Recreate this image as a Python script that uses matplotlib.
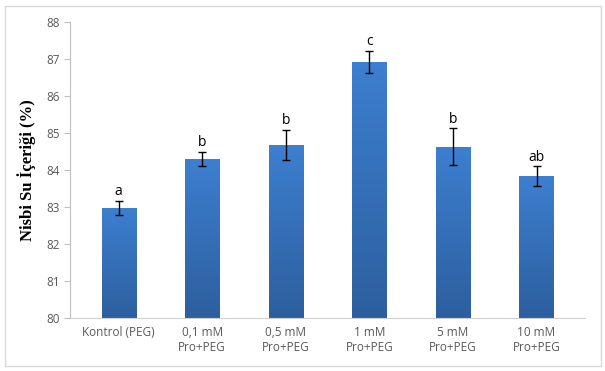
import numpy as np
import matplotlib.pyplot as plt
from matplotlib.patches import Rectangle
from matplotlib.colors import LinearSegmentedColormap

# --- Data ---
categories = ['Kontrol (PEG)', '0,1 mM\nPro+PEG', '0,5 mM\nPro+PEG',
              '1 mM\nPro+PEG', '5 mM\nPro+PEG', '10 mM\nPro+PEG']
values = [82.97, 84.30, 84.68, 86.92, 84.62, 83.83]
errors = [0.20, 0.19, 0.41, 0.30, 0.50, 0.27]
letters = ['a', 'b', 'b', 'c', 'b', 'ab']
yticks = [80, 81, 82, 83, 84, 85, 86, 87, 88]

grey = '#595959'
fig = plt.figure(figsize=(6.05, 3.71), dpi=100)
ax = fig.add_axes([0.116, 0.143, 0.851, 0.798])

x = np.arange(len(categories))
bars = ax.bar(x, values, width=0.41, bottom=0, color='none', zorder=2)
ax.errorbar(x, values, yerr=errors, fmt='none', ecolor='black',
            elinewidth=1.0, capsize=3, capthick=1.0, zorder=4)

# gradient fill for each bar
cmap = LinearSegmentedColormap.from_list('bar', ['#2d5f9e', '#3d7fd0'])
grad = np.linspace(0, 1, 256).reshape(-1, 1)
for b in bars:
    x0 = b.get_x()
    w = b.get_width()
    h = b.get_height()
    im = ax.imshow(grad, cmap=cmap, aspect='auto', origin='lower',
                   extent=[x0, x0 + w, 80, h], zorder=2)
    im.set_clip_path(Rectangle((x0, 80), w, h - 80, transform=ax.transData))

for xi, v, e, lab in zip(x, values, errors, letters):
    ax.text(xi, v + e + 0.04, lab, ha='center', va='bottom',
            fontsize=10, family='Open Sans', color='black')

ax.set_xlim(-0.58, len(categories) - 0.42)
ax.set_ylim(80, 88)
ax.set_yticks(yticks)
ax.set_xticks(x)
ax.set_xticklabels(categories, fontsize=8.5, family='Open Sans', color=grey)
ax.tick_params(axis='y', labelsize=8.5, colors=grey, length=4, direction='out')
for lab in ax.get_yticklabels():
    lab.set_family('Open Sans')
ax.tick_params(axis='x', length=0, pad=6)
ax.spines['top'].set_visible(False)
ax.spines['right'].set_visible(False)
ax.spines['left'].set_color('#bfbfbf')
ax.spines['bottom'].set_color('#d0d0d0')
ax.tick_params(axis='y', color='#bfbfbf')

ax.set_ylabel('Nisbi Su İçeriği (%)', family='Liberation Serif',
              fontweight='bold', fontsize=12, color='black', labelpad=7)

# outer frame
fig.patches.append(Rectangle((0.008, 0.013), 0.985, 0.972, transform=fig.transFigure,
                             fill=False, edgecolor='#d9d9d9', linewidth=1.0))

fig.savefig('out.png', dpi=100)
